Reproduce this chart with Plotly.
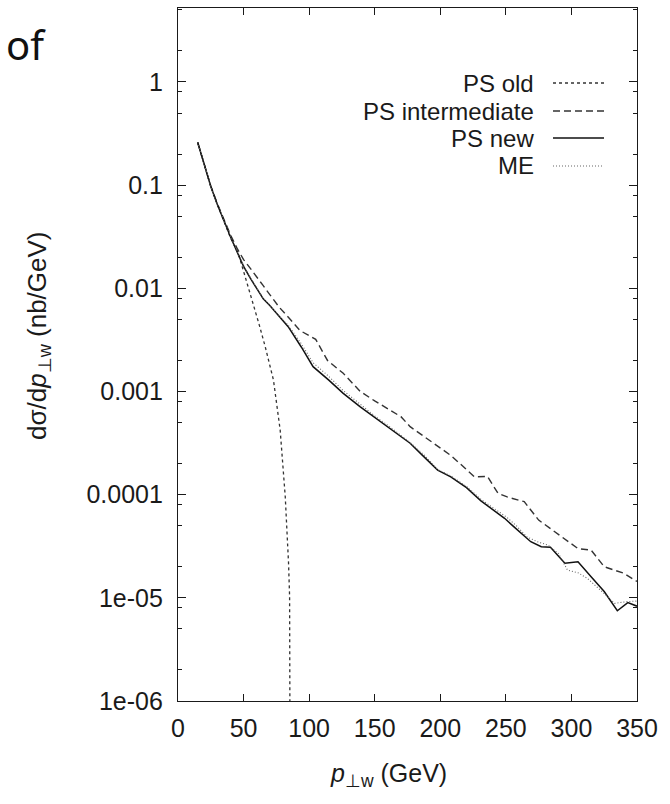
import plotly.graph_objects as go

# ---------------- data ----------------
x_ps_old = [15, 20, 25, 30, 35, 40, 46, 50, 55, 57.5, 62, 66.5, 72.8, 77.9, 81.8, 84.3, 85.1, 85.5]
y_ps_old = [0.26, 0.155, 0.097, 0.065, 0.045, 0.031, 0.0218, 0.0148, 0.00895, 0.00716, 0.0044,
            0.00272, 0.00129, 0.000424, 9.5e-5, 2.16e-5, 1.03e-5, 1e-7]

x_ps_int = [15, 20, 25, 30, 35, 40, 45, 50, 56, 60, 65, 70, 77, 85, 93, 105, 114, 126, 139, 150,
            160, 170, 177, 190, 208, 215, 226, 236, 244, 251, 264, 275, 289, 297, 305, 315, 325, 340, 350]
y_ps_int = [0.26, 0.155, 0.098, 0.066, 0.046, 0.033, 0.0245, 0.019, 0.0151, 0.013, 0.0106, 0.0087,
            0.0066, 0.0051, 0.0039, 0.0032, 0.0020, 0.0015, 0.00100, 0.00081, 0.00068, 0.00057,
            0.000456, 0.00035, 0.00024, 0.00020, 0.000149, 0.000150, 0.000103, 9.5e-5, 8.55e-5,
            5.67e-5, 4.2e-5, 3.6e-5, 3.0e-5, 2.9e-5, 2.0e-5, 1.73e-5, 1.44e-5]

x_ps_new = [15, 20, 25, 30, 35, 40, 45, 50, 55, 60, 65, 70, 76, 84, 94, 103, 115, 126, 139, 150,
            160, 177, 188, 198, 208, 220, 231, 240, 249, 256, 262, 269, 277, 284, 295, 305, 315,
            325, 335, 343, 350]
y_ps_new = [0.26, 0.155, 0.097, 0.065, 0.045, 0.0316, 0.0226, 0.0163, 0.0126, 0.0099, 0.0079,
            0.0068, 0.0055, 0.00425, 0.0027, 0.00174, 0.00129, 0.00096, 0.00071, 0.00056, 0.00046,
            0.000315, 0.00023, 0.000173, 0.000149, 0.000117, 8.7e-5, 7.2e-5, 5.9e-5, 4.9e-5,
            4.2e-5, 3.5e-5, 3.13e-5, 3.1e-5, 2.16e-5, 2.24e-5, 1.6e-5, 1.15e-5, 7.5e-6, 9.0e-6, 8.3e-6]

x_me = [15, 20, 25, 30, 35, 40, 45, 50, 55, 60, 65, 70, 76, 84, 94, 103, 115, 126, 139, 150, 160,
        177, 188, 198, 208, 220, 231, 240, 251, 258, 266, 274, 282, 290, 297, 305, 312, 325, 333,
        343, 350]
y_me = [0.26, 0.155, 0.097, 0.066, 0.045, 0.032, 0.023, 0.0166, 0.0128, 0.0101, 0.0080, 0.0069,
        0.0056, 0.0044, 0.0029, 0.0019, 0.0014, 0.00102, 0.00075, 0.00058, 0.00047, 0.00032,
        0.00024, 0.000175, 0.000152, 0.00012, 9.0e-5, 7.5e-5, 6.0e-5, 5.0e-5, 3.9e-5, 3.5e-5,
        3.25e-5, 2.7e-5, 1.86e-5, 1.75e-5, 1.55e-5, 1.1e-5, 8.85e-6, 9.2e-6, 9.3e-6]

series_names = ["PS old", "PS intermediate", "PS new", "ME"]

x_ticks = [0, 50, 100, 150, 200, 250, 300, 350]
y_ticks = [1e-6, 1e-5, 1e-4, 1e-3, 1e-2, 1e-1, 1]
y_tick_text = ["1e-06", "1e-05", "0.0001", "0.001", "0.01", "0.1", "1"]
y_minor = [m * 10.0 ** e for e in range(-6, 1) for m in (2, 5, 8)]

# ---------------- styles ----------------
INK = "#1a1a1a"
FONT = "Liberation Sans"
styles = [
    dict(color="#333333", width=1.3, dash="3px,3px"),
    dict(color="#333333", width=1.4, dash="7px,4px"),
    dict(color="#111111", width=1.5, dash="solid"),
    dict(color="#666666", width=1.1, dash="1px,2px"),
]
xs = [x_ps_old, x_ps_int, x_ps_new, x_me]
ys = [y_ps_old, y_ps_int, y_ps_new, y_me]

fig = go.Figure()
for name, x, y, st in zip(series_names, xs, ys, styles):
    fig.add_trace(go.Scatter(x=x, y=y, mode="lines", name=name, line=st, showlegend=False))

# plot box in pixels
L, R, T, B = 178, 637, 8, 701
W, H = 670, 804
PW, PH = R - L, B - T


def px(xp):
    return (xp - L) / PW


def py(yp):
    return (B - yp) / PH


annotations = []
shapes = []
rows = [83, 111, 138, 166]
for name, st, yr in zip(series_names, styles, rows):
    annotations.append(dict(x=px(536), y=py(yr), xref="paper", yref="paper", text=name,
                            showarrow=False, xanchor="right", yanchor="middle",
                            font=dict(family=FONT, size=24, color=INK)))
    shapes.append(dict(type="line", xref="paper", yref="paper", x0=px(553), x1=px(604),
                       y0=py(yr), y1=py(yr), line=st))

annotations.append(dict(x=px(388), y=py(775), xref="paper", yref="paper",
                        text="<i>p</i><sub>⊥w</sub> (GeV)", showarrow=False,
                        xanchor="center", yanchor="middle",
                        font=dict(family=FONT, size=25, color=INK)))
annotations.append(dict(x=px(38), y=py(336), xref="paper", yref="paper",
                        text="dσ/d<i>p</i><sub>⊥w</sub> (nb/GeV)", showarrow=False,
                        textangle=-90, xanchor="center", yanchor="middle",
                        font=dict(family=FONT, size=26, color=INK)))
annotations.append(dict(x=px(4), y=py(44), xref="paper", yref="paper", text="of",
                        showarrow=False, xanchor="left", yanchor="middle",
                        font=dict(family="Noto Sans", size=40, color="#111111")))

axis_common = dict(showline=True, linecolor=INK, linewidth=1.2, mirror="ticks", ticks="inside",
                   tickcolor=INK, tickwidth=1.2, showgrid=False, zeroline=False,
                   tickfont=dict(family=FONT, size=25, color=INK))

fig.update_layout(
    width=W, height=H, autosize=False,
    margin=dict(l=L, r=W - R, t=T, b=H - B, pad=0),
    paper_bgcolor="white", plot_bgcolor="white",
    xaxis=dict(range=[0, 350], tickmode="array", tickvals=x_ticks, ticklen=7,
               ticklabelstandoff=5, **axis_common),
    yaxis=dict(type="log", range=[-6, 0.717], tickmode="array", tickvals=y_ticks,
               ticktext=y_tick_text, ticklen=8, ticklabelstandoff=9,
               minor=dict(tickmode="array", tickvals=y_minor, ticks="inside", ticklen=4,
                          tickcolor=INK, tickwidth=1, showgrid=False),
               **axis_common),
    annotations=annotations,
    shapes=shapes,
    showlegend=False,
)

fig.write_html("out.html")
